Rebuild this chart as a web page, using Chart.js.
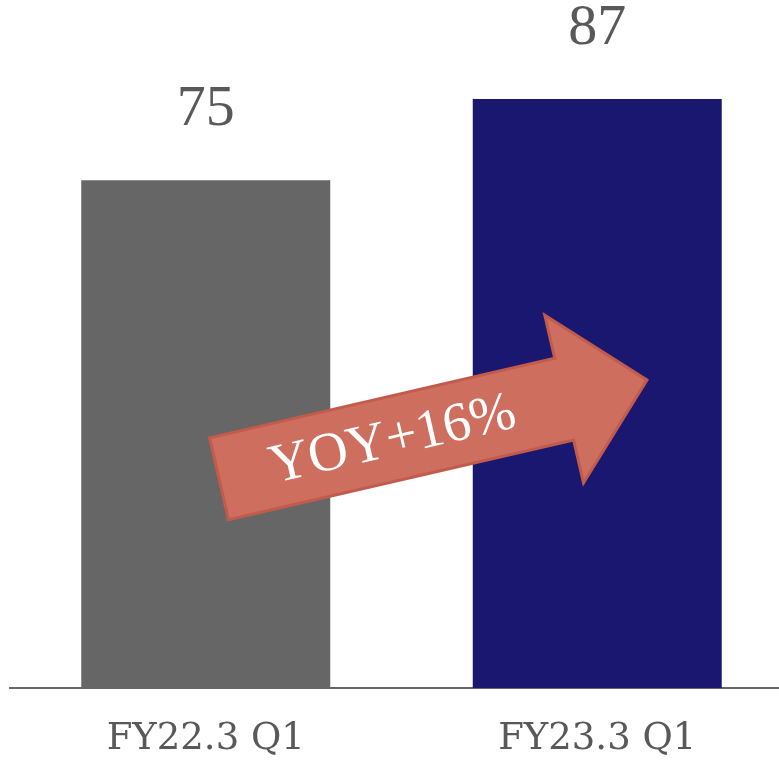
<!DOCTYPE html>
<html>
<head>
<meta charset="utf-8">
<script src="https://cdn.jsdelivr.net/npm/chart.js@4/dist/chart.umd.min.js"></script>
<style>
  html, body { margin: 0; padding: 0; background: #fff; overflow: hidden; }
  #wrap { width: 779px; height: 767px; overflow: hidden; }
  canvas { display: block; }
</style>
</head>
<body>
<div id="wrap"><canvas id="bars" width="795" height="767"></canvas></div>
<script>
// ===== quarterly comparison =====
const periods = ["FY22.3 Q1", "FY23.3 Q1"];
const values = [75, 87];
const barColors = ["#666666", "#191770"];
const growthText = "YOY+16%";

const SERIF = "'Liberation Serif', 'DejaVu Serif', serif";
const WIDE_SERIF = "'DejaVu Serif', 'Liberation Serif', serif";
const TEXT_GRAY = "#595959";

// arrow placed in scale units (category index / value), sizes in px
const arrowCfg = {
  from: { x: 0.034, y: 30.9 },
  to: { x: 1.127, y: 45.5 },
  shaftHalf: 42,
  headHalf: 86,
  headLen: 85,
  textAt: 178,
  fill: "#CD6E5E",
  stroke: "#C25B4B"
};

// number above each bar
const valueLabels = {
  id: "valueLabels",
  afterDatasetsDraw(chart) {
    const c = chart.ctx;
    const meta = chart.getDatasetMeta(0);
    c.save();
    c.font = "58px " + SERIF;
    c.fillStyle = TEXT_GRAY;
    c.textAlign = "center";
    c.textBaseline = "alphabetic";
    meta.data.forEach((bar, i) => {
      c.fillText(String(values[i]), bar.x, bar.y - 55);
    });
    c.restore();
  }
};

// growth arrow over the bars
const growthArrow = {
  id: "growthArrow",
  afterDatasetsDraw(chart) {
    const c = chart.ctx;
    const xs = chart.scales.x, ys = chart.scales.y;
    const x0 = xs.getPixelForValue(arrowCfg.from.x), y0 = ys.getPixelForValue(arrowCfg.from.y);
    const x1 = xs.getPixelForValue(arrowCfg.to.x), y1 = ys.getPixelForValue(arrowCfg.to.y);
    const len = Math.hypot(x1 - x0, y1 - y0);
    const ang = Math.atan2(y1 - y0, x1 - x0);
    const s = arrowCfg.shaftHalf, h = arrowCfg.headHalf, neck = len - arrowCfg.headLen;

    c.save();
    c.translate(x0, y0);
    c.rotate(ang);
    c.beginPath();
    c.moveTo(0, -s);
    c.lineTo(neck, -s);
    c.lineTo(neck, -h);
    c.lineTo(len, 0);
    c.lineTo(neck, h);
    c.lineTo(neck, s);
    c.lineTo(0, s);
    c.closePath();
    c.fillStyle = arrowCfg.fill;
    c.fill();
    c.lineWidth = 3;
    c.lineJoin = "miter";
    c.strokeStyle = arrowCfg.stroke;
    c.stroke();

    c.font = "55px " + SERIF;
    c.fillStyle = "#ffffff";
    c.textAlign = "center";
    c.textBaseline = "middle";
    c.fillText(growthText, arrowCfg.textAt, 2);
    c.restore();
  }
};

new Chart(document.getElementById("bars"), {
  type: "bar",
  data: {
    labels: periods,
    datasets: [{
      data: values,
      backgroundColor: barColors,
      borderWidth: 0,
      categoryPercentage: 1,
      barPercentage: 0.636
    }]
  },
  options: {
    responsive: false,
    animation: false,
    devicePixelRatio: 1,
    layout: { padding: { left: 10, right: 2, top: 11, bottom: 6 } },
    plugins: {
      legend: { display: false },
      tooltip: { enabled: false }
    },
    scales: {
      x: {
        grid: { display: false, drawTicks: false },
        border: { display: true, color: "#666666", width: 2 },
        afterFit(scale) { scale.height = 73; },
        ticks: {
          color: TEXT_GRAY,
          padding: 33,
          font: { family: WIDE_SERIF, size: 37, lineHeight: 1.0 }
        }
      },
      y: {
        display: false,
        min: 0,
        max: 100
      }
    }
  },
  plugins: [valueLabels, growthArrow]
});
</script>
</body>
</html>
